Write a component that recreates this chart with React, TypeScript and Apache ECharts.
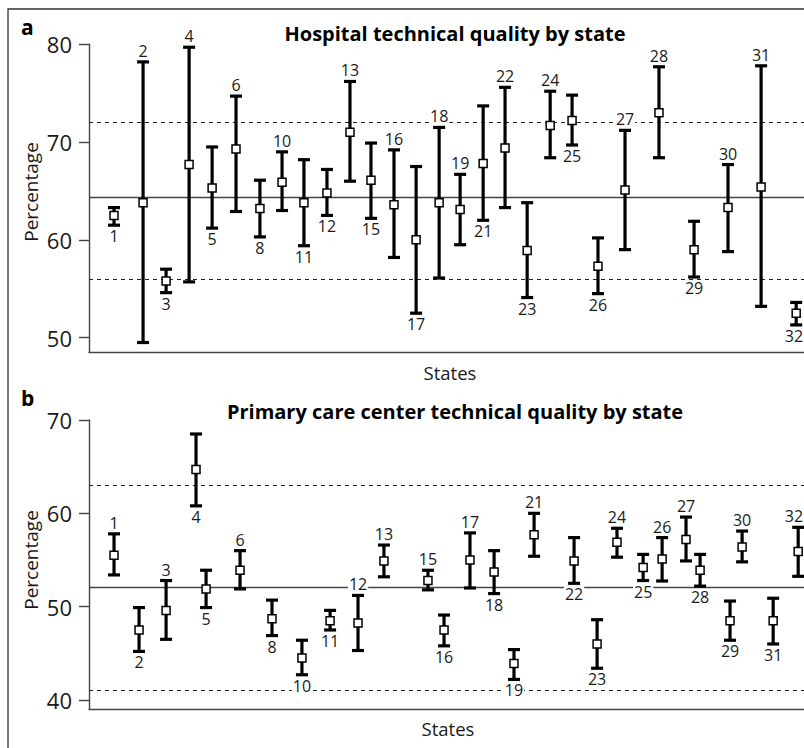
import React, { useEffect, useRef } from "react";
import * as echarts from "echarts";

// ---- Data ----
const STATES = [1, 2, 3, 4, 5, 6, 8, 10, 11, 12, 13, 15, 16, 17, 18, 19, 21, 22, 23, 24, 25, 26, 27, 28, 29, 30, 31, 32];

// Panel a: Hospital technical quality
const POS_A = [1.12, 2.42, 3.45, 4.48, 5.51, 6.58, 7.65, 8.64, 9.62, 10.65, 11.68, 12.62, 13.65, 14.64, 15.67, 16.61, 17.64, 18.62, 19.61, 20.64, 21.62, 22.78, 23.99, 25.51, 27.08, 28.6, 30.08, 31.65];
const MEAN_A = [62.5, 63.8, 55.8, 67.7, 65.3, 69.3, 63.2, 65.9, 63.8, 64.8, 71.0, 66.1, 63.6, 60.0, 63.8, 63.1, 67.8, 69.4, 58.9, 71.7, 72.2, 57.3, 65.1, 73.0, 59.0, 63.3, 65.4, 52.5];
const LOW_A = [61.5, 49.5, 54.6, 55.7, 61.2, 62.9, 60.3, 63.0, 59.4, 62.5, 66.0, 62.2, 58.2, 52.5, 56.1, 59.5, 62.0, 63.3, 54.1, 68.4, 69.7, 54.5, 59.0, 68.4, 56.2, 58.8, 53.2, 51.3];
const HIGH_A = [63.3, 78.2, 57.0, 79.7, 69.5, 74.7, 66.1, 69.0, 68.2, 67.2, 76.2, 69.9, 69.2, 67.5, 71.5, 66.7, 73.7, 75.6, 63.8, 75.2, 74.8, 60.2, 71.2, 77.7, 61.9, 67.7, 77.8, 53.6];
const LABEL_ABOVE_A = [2, 4, 6, 10, 13, 16, 18, 19, 22, 24, 27, 28, 30, 31];
const REF_A = { mean: 64.4, upper: 72.0, lower: 56.0 };
const TICKS_A = [50, 60, 70, 80];

// Panel b: Primary care center technical quality
const POS_B = [1.12, 2.24, 3.45, 4.79, 5.24, 6.76, 8.19, 9.53, 10.79, 12.04, 13.2, 15.17, 15.89, 17.05, 18.13, 19.02, 19.92, 21.71, 22.74, 23.63, 24.8, 25.65, 26.72, 27.35, 28.69, 29.23, 30.62, 31.74];
const MEAN_B = [55.5, 47.5, 49.6, 64.7, 51.9, 53.9, 48.7, 44.5, 48.5, 48.25, 54.9, 52.8, 47.5, 55.0, 53.7, 43.9, 57.7, 54.9, 46.0, 56.9, 54.2, 55.1, 57.2, 53.9, 48.5, 56.4, 48.5, 55.9];
const LOW_B = [53.4, 45.2, 46.5, 60.8, 49.9, 51.9, 46.9, 42.7, 47.5, 45.3, 53.2, 51.8, 45.8, 52.0, 51.4, 42.2, 55.4, 52.5, 43.4, 55.3, 52.8, 52.75, 54.9, 52.2, 46.4, 54.8, 46.0, 53.25];
const HIGH_B = [57.8, 49.9, 52.8, 68.5, 53.9, 56.0, 50.7, 46.4, 49.6, 51.2, 56.6, 53.9, 49.1, 57.9, 56.0, 45.4, 60.0, 57.4, 48.6, 58.4, 55.6, 57.4, 59.6, 55.6, 50.6, 58.1, 50.9, 58.5];
const LABEL_ABOVE_B = [1, 3, 6, 12, 13, 15, 17, 21, 24, 26, 27, 30, 32];
const REF_B = { mean: 52.1, upper: 63.0, lower: 41.0 };
const TICKS_B = [40, 50, 60, 70];

const TITLE_A = "Hospital technical quality by state";
const TITLE_B = "Primary care center technical quality by state";

const FONT = '"Open Sans", "Noto Sans", sans-serif';
const CHART_W = 804;

function makeRender(pos: number[], mean: number[], low: number[], high: number[], above: number[]) {
  return (params: any, api: any) => {
    const i = params.dataIndex;
    const c = api.coord([pos[i], mean[i]]);
    const t = api.coord([pos[i], high[i]]);
    const b = api.coord([pos[i], low[i]]);
    const x = c[0];
    const capW = 6;
    const s = 4;
    const ls = { stroke: "#000", lineWidth: 3.2 };
    const up = above.indexOf(STATES[i]) >= 0;
    const labelX = Math.min(x, CHART_W - 10);
    return {
      type: "group",
      children: [
        { type: "line", shape: { x1: x, y1: t[1], x2: x, y2: b[1] }, style: ls },
        { type: "line", shape: { x1: x - capW, y1: t[1], x2: x + capW, y2: t[1] }, style: ls },
        { type: "line", shape: { x1: x - capW, y1: b[1], x2: x + capW, y2: b[1] }, style: ls },
        {
          type: "rect",
          shape: { x: x - s, y: c[1] - s, width: 2 * s, height: 2 * s },
          style: { fill: "#fff", stroke: "#000", lineWidth: 1.5 },
        },
        {
          type: "text",
          x: labelX,
          y: up ? t[1] - 3 : b[1] + 3,
          style: {
            text: String(STATES[i]),
            fill: "#1a1a1a",
            font: `16px ${FONT}`,
            align: "center",
            verticalAlign: up ? "bottom" : "top",
            backgroundColor: "#fff",
            padding: [0, 1],
          },
        },
      ],
    };
  };
}

function refSeries(idx: number, ref: { mean: number; upper: number; lower: number }) {
  return {
    type: "line",
    xAxisIndex: idx,
    yAxisIndex: idx,
    data: [],
    silent: true,
    markLine: {
      silent: true,
      symbol: ["none", "none"],
      label: { show: false },
      emphasis: { disabled: true },
      z: 1,
      data: [
        { yAxis: ref.mean, lineStyle: { type: "solid", color: "#444", width: 1.4 } },
        { yAxis: ref.upper, lineStyle: { type: [4, 4], color: "#222", width: 1.2 } },
        { yAxis: ref.lower, lineStyle: { type: [4, 4], color: "#222", width: 1.2 } },
      ],
    },
  };
}

function yAxisDef(idx: number, min: number, max: number, ticks: number[]) {
  return {
    type: "value",
    gridIndex: idx,
    min,
    max,
    axisLine: { show: true, lineStyle: { color: "#444", width: 1.4 } },
    axisTick: { show: true, length: 10, customValues: ticks, lineStyle: { color: "#444", width: 1.4 } },
    axisLabel: { customValues: ticks, margin: 17, color: "#1a1a1a", fontSize: 22, fontFamily: FONT },
    splitLine: { show: false },
  };
}

function xAxisDef(idx: number) {
  return {
    type: "value",
    gridIndex: idx,
    min: 0,
    max: 32,
    axisLine: { show: true, onZero: false, lineStyle: { color: "#444", width: 1.4 } },
    axisTick: { show: false },
    axisLabel: { show: false },
    splitLine: { show: false },
  };
}

export default function App() {
  const ref = useRef<HTMLDivElement>(null);
  useEffect(() => {
    if (!ref.current) return;
    const chart = echarts.init(ref.current, undefined, { renderer: "svg" });
    const option: any = {
      animation: false,
      backgroundColor: "#fff",
      grid: [
        { left: 89, top: 44.3, width: 715, height: 308 },
        { left: 89, top: 420, width: 715, height: 289.3 },
      ],
      xAxis: [xAxisDef(0), xAxisDef(1)],
      yAxis: [yAxisDef(0, 48.5, 80, TICKS_A), yAxisDef(1, 39, 70, TICKS_B)],
      series: [
        refSeries(0, REF_A),
        refSeries(1, REF_B),
        {
          type: "custom",
          xAxisIndex: 0,
          yAxisIndex: 0,
          z: 10,
          silent: true,
          clip: false,
          renderItem: makeRender(POS_A, MEAN_A, LOW_A, HIGH_A, LABEL_ABOVE_A),
          encode: { x: 0, y: [1, 2] },
          data: POS_A.map((p, i) => [p, LOW_A[i], HIGH_A[i]]),
        },
        {
          type: "custom",
          xAxisIndex: 1,
          yAxisIndex: 1,
          z: 10,
          silent: true,
          clip: false,
          renderItem: makeRender(POS_B, MEAN_B, LOW_B, HIGH_B, LABEL_ABOVE_B),
          encode: { x: 0, y: [1, 2] },
          data: POS_B.map((p, i) => [p, LOW_B[i], HIGH_B[i]]),
        },
      ],
      graphic: [
        {
          type: "rect",
          shape: { x: 8, y: 9, width: 830, height: 780 },
          style: { fill: "none", stroke: "#333", lineWidth: 1.3 },
          silent: true,
        },
        { type: "text", x: 21, y: 27, style: { text: "a", font: `bold 21px ${FONT}`, fill: "#000", verticalAlign: "middle" } },
        { type: "text", x: 21, y: 398, style: { text: "b", font: `bold 21px ${FONT}`, fill: "#000", verticalAlign: "middle" } },
        { type: "text", x: 455, y: 33, style: { text: TITLE_A, font: `bold 20px ${FONT}`, fill: "#000", align: "center", verticalAlign: "middle" } },
        { type: "text", x: 455, y: 411, style: { text: TITLE_B, font: `bold 20px ${FONT}`, fill: "#000", align: "center", verticalAlign: "middle" } },
        { type: "text", x: 31, y: 192, rotation: Math.PI / 2, style: { text: "Percentage", font: `19px ${FONT}`, fill: "#1a1a1a", align: "center", verticalAlign: "middle" } },
        { type: "text", x: 31, y: 560, rotation: Math.PI / 2, style: { text: "Percentage", font: `19px ${FONT}`, fill: "#1a1a1a", align: "center", verticalAlign: "middle" } },
        { type: "text", x: 450, y: 372, style: { text: "States", font: `18.5px ${FONT}`, fill: "#1a1a1a", align: "center", verticalAlign: "middle" } },
        { type: "text", x: 448, y: 728, style: { text: "States", font: `18.5px ${FONT}`, fill: "#1a1a1a", align: "center", verticalAlign: "middle" } },
      ],
    };
    chart.setOption(option);
    return () => chart.dispose();
  }, []);
  return (
    <div
      ref={ref}
      style={{ position: "absolute", left: 0, top: 0, width: 804, height: 748, background: "#fff" }}
    />
  );
}
